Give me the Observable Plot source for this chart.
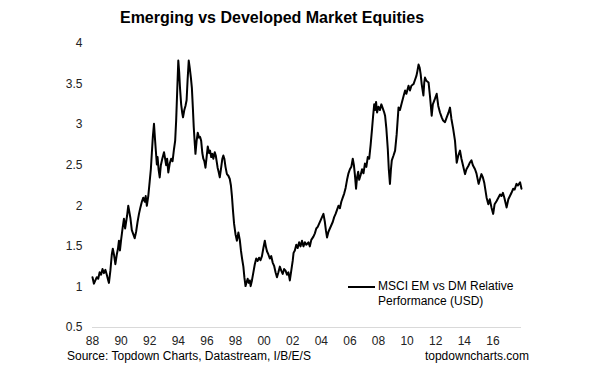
<!DOCTYPE html>
<html><head><meta charset="utf-8">
<script src="https://cdn.jsdelivr.net/npm/d3@7"></script>
<script src="https://cdn.jsdelivr.net/npm/@observablehq/plot@0.6"></script>
<style>
body{margin:0;background:#fff;font-family:"Liberation Sans",Arial,sans-serif;}
#wrap{position:relative;width:597px;height:375px;overflow:hidden;background:#fff;}
#chart{position:absolute;left:0;top:0;}
#title{position:absolute;left:0;width:544px;top:9px;text-align:center;font-weight:bold;font-size:16px;color:#000;}
#legend{position:absolute;left:348px;top:279px;font-size:12px;line-height:15px;color:#000;}
#legend .sw{position:absolute;left:0;top:7px;width:27px;height:2px;background:#000;}
#legend .tx{position:absolute;left:30px;top:0;white-space:nowrap;}
#src{position:absolute;left:67px;top:349px;font-size:12px;color:#000;white-space:nowrap;}
#site{position:absolute;right:68px;top:349px;font-size:12px;color:#000;white-space:nowrap;}
</style></head>
<body>
<div id="wrap">
  <div id="chart"></div>
  <div id="title"></div>
  <div id="legend"><div class="sw"></div><div class="tx"></div></div>
  <div id="src"></div>
  <div id="site"></div>
</div>
<script>
const titleText = "Emerging vs Developed Market Equities";
const seriesName = ["MSCI EM vs DM Relative", "Performance (USD)"];
const sourceText = "Source: Topdown Charts, Datastream, I/B/E/S";
const siteText = "topdowncharts.com";

const xTicks = [1988,1990,1992,1994,1996,1998,2000,2002,2004,2006,2008,2010,2012,2014,2016];
const yTicks = [0.5,1,1.5,2,2.5,3,3.5,4];

const dates = [
1988.0,1988.1,1988.2,1988.3,1988.4,1988.5,1988.6,1988.7,1988.8,1988.9,1989.0,1989.1,1989.15,1989.25,1989.35,1989.42,1989.5,1989.6,1989.7,1989.78,1989.85,1989.92,
1990.0,1990.1,1990.2,1990.28,1990.35,1990.42,1990.5,1990.58,1990.65,1990.75,1990.85,1990.95,1991.05,1991.15,1991.25,1991.35,1991.45,1991.55,1991.65,1991.72,1991.8,1991.9,
1992.0,1992.08,1992.15,1992.22,1992.3,1992.36,1992.42,1992.5,1992.55,1992.62,1992.7,1992.78,1992.88,1993.0,1993.08,1993.15,1993.22,1993.3,1993.4,1993.5,1993.6,1993.7,1993.78,1993.85,1993.92,
1994.0,1994.06,1994.12,1994.2,1994.27,1994.33,1994.42,1994.5,1994.58,1994.65,1994.73,1994.8,1994.88,1994.95,1995.02,1995.08,1995.14,1995.2,1995.28,1995.36,1995.45,1995.52,1995.6,1995.68,1995.75,1995.82,1995.9,1995.98,
1996.06,1996.15,1996.22,1996.3,1996.38,1996.45,1996.55,1996.62,1996.68,1996.75,1996.82,1996.9,1996.98,1997.08,1997.15,1997.22,1997.3,1997.4,1997.5,1997.6,1997.68,1997.75,1997.82,1997.9,
1998.0,1998.1,1998.2,1998.3,1998.38,1998.45,1998.55,1998.62,1998.7,1998.78,1998.85,1998.92,1999.0,1999.06,1999.15,1999.25,1999.35,1999.45,1999.55,1999.65,1999.75,1999.85,1999.95,
2000.05,2000.12,2000.2,2000.3,2000.4,2000.5,2000.6,2000.7,2000.8,2000.9,2001.0,2001.1,2001.2,2001.3,2001.4,2001.5,2001.6,2001.7,2001.8,2001.9,
2002.0,2002.06,2002.15,2002.25,2002.35,2002.45,2002.55,2002.65,2002.75,2002.85,2002.95,2003.1,2003.2,2003.3,2003.45,2003.55,2003.65,2003.75,2003.85,2003.95,
2004.05,2004.15,2004.25,2004.32,2004.4,2004.5,2004.6,2004.7,2004.8,2004.9,2005.0,2005.1,2005.2,2005.3,2005.4,2005.5,2005.6,2005.7,2005.8,2005.9,
2006.0,2006.1,2006.2,2006.28,2006.35,2006.43,2006.5,2006.58,2006.65,2006.75,2006.85,2006.95,2007.05,2007.15,2007.25,2007.35,2007.45,2007.55,2007.62,2007.7,2007.76,2007.83,2007.9,
2008.0,2008.1,2008.2,2008.3,2008.4,2008.46,2008.55,2008.65,2008.72,2008.8,2008.87,2008.93,2009.05,2009.16,2009.27,2009.4,2009.5,2009.63,2009.75,2009.86,2009.95,
2010.1,2010.2,2010.3,2010.45,2010.55,2010.65,2010.72,2010.8,2010.88,2010.95,2011.02,2011.14,2011.2,2011.25,2011.35,2011.5,2011.6,2011.72,2011.8,2011.95,
2012.07,2012.18,2012.3,2012.42,2012.52,2012.65,2012.75,2012.9,2013.0,2013.1,2013.22,2013.35,2013.47,2013.58,2013.7,2013.8,2013.92,
2014.05,2014.15,2014.28,2014.38,2014.5,2014.6,2014.75,2014.85,2015.0,2015.1,2015.2,2015.3,2015.4,2015.56,2015.68,2015.78,2015.9,
2016.02,2016.12,2016.26,2016.38,2016.5,2016.6,2016.7,2016.8,2016.96,2017.08,2017.19,2017.3,2017.42,2017.52,2017.65,2017.75,2017.9,2018.0
];
const values = [
1.12,1.04,1.08,1.12,1.10,1.18,1.15,1.22,1.17,1.21,1.15,1.08,1.05,1.20,1.40,1.47,1.40,1.28,1.40,1.47,1.57,1.45,
1.58,1.72,1.84,1.72,1.80,1.88,2.00,1.92,1.85,1.70,1.65,1.60,1.68,1.80,1.90,1.98,2.05,2.10,2.05,2.12,2.00,2.12,
2.30,2.45,2.65,2.85,3.01,2.85,2.70,2.51,2.60,2.45,2.35,2.50,2.58,2.66,2.58,2.50,2.58,2.41,2.52,2.58,2.55,2.70,2.80,3.05,3.40,
3.79,3.65,3.45,3.25,3.15,3.09,3.18,3.23,3.30,3.55,3.79,3.70,3.58,3.45,3.20,2.97,2.80,2.64,2.80,2.90,2.84,2.85,2.80,2.65,2.58,2.55,2.47,2.60,
2.73,2.65,2.68,2.60,2.64,2.58,2.66,2.62,2.55,2.47,2.42,2.35,2.45,2.58,2.62,2.58,2.48,2.39,2.37,2.33,2.25,2.12,1.95,1.78,
1.65,1.57,1.67,1.58,1.45,1.36,1.25,1.12,1.01,1.06,1.10,1.05,1.08,1.01,1.08,1.18,1.28,1.35,1.32,1.36,1.33,1.38,1.48,
1.57,1.50,1.44,1.40,1.35,1.38,1.30,1.26,1.18,1.12,1.18,1.25,1.20,1.16,1.22,1.20,1.15,1.18,1.08,1.20,
1.32,1.42,1.45,1.52,1.48,1.55,1.50,1.57,1.50,1.55,1.52,1.55,1.50,1.58,1.62,1.66,1.72,1.74,1.78,1.82,
1.86,1.90,1.80,1.70,1.61,1.68,1.72,1.76,1.80,1.86,1.90,1.95,2.00,1.97,2.05,2.10,2.15,2.22,2.32,2.40,
2.45,2.48,2.58,2.50,2.38,2.21,2.35,2.42,2.32,2.38,2.45,2.40,2.52,2.48,2.60,2.58,2.75,2.95,3.10,3.25,3.18,3.28,3.15,
3.22,3.18,3.25,3.20,3.15,3.11,2.95,2.70,2.45,2.27,2.45,2.56,2.62,2.68,2.88,3.21,3.18,3.27,3.35,3.42,3.38,
3.48,3.42,3.48,3.50,3.55,3.60,3.66,3.74,3.70,3.62,3.50,3.36,3.52,3.58,3.54,3.52,3.35,3.11,3.25,3.32,
3.38,3.23,3.15,3.09,3.05,3.03,3.08,3.15,3.21,3.07,2.95,2.80,2.53,2.62,2.68,2.58,2.49,
2.39,2.45,2.49,2.53,2.56,2.50,2.45,2.40,2.27,2.33,2.39,2.35,2.28,2.10,2.02,2.08,1.98,
1.90,2.02,2.06,2.10,2.14,2.12,2.16,2.10,1.98,2.08,2.12,2.16,2.21,2.20,2.27,2.25,2.29,2.21
];

const data = dates.map((t, i) => ({t, v: values[i]}));

const chart = Plot.plot({
  width: 597, height: 375,
  marginLeft: 92, marginRight: 76, marginTop: 43, marginBottom: 48,
  style: {fontFamily: "Liberation Sans, Arial, sans-serif", fontSize: "12px", color: "#222", background: "transparent", overflow: "visible"},
  x: {type: "linear", domain: [1988, 2018], ticks: xTicks, tickFormat: d => String(d % 100).padStart(2, "0"), tickSize: 0, tickPadding: 9, label: null},
  y: {domain: [0.5, 4], ticks: yTicks, tickFormat: d => String(d), tickSize: 0, tickPadding: 10, label: null},
  marks: [
    Plot.ruleY([0.5], {stroke: "#d9d9d9", strokeWidth: 1}),
    Plot.line(data, {x: "t", y: "v", stroke: "#000", strokeWidth: 2, strokeLinejoin: "round"})
  ]
});
document.getElementById("chart").appendChild(chart);
document.getElementById("title").textContent = titleText;
document.querySelector("#legend .tx").innerHTML = seriesName.join("<br>");
document.getElementById("src").textContent = sourceText;
document.getElementById("site").textContent = siteText;
</script>
</body></html>
